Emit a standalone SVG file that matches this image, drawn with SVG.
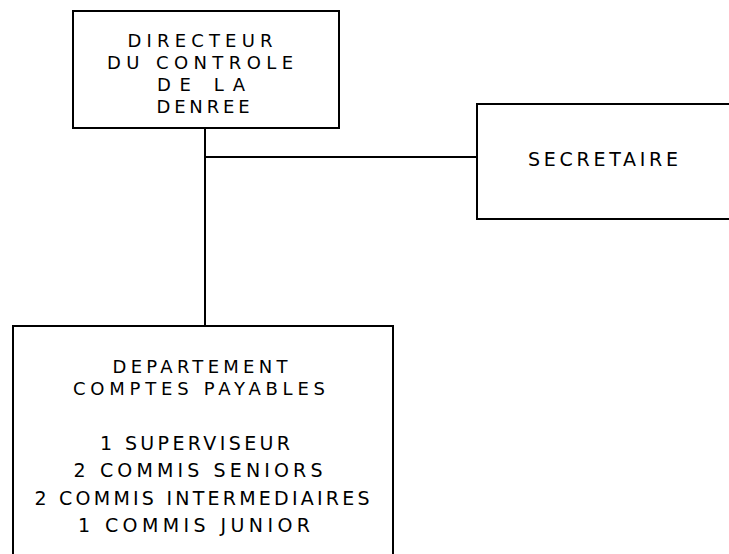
<svg xmlns="http://www.w3.org/2000/svg" width="729" height="554" viewBox="0 0 729 554">
  <style>
    .box { fill: none; stroke: #000; stroke-width: 2; }
    .wire { fill: none; stroke: #000; stroke-width: 2; }
    .lbl { font-family: "DejaVu Sans", "Liberation Sans", sans-serif; font-size: 18px; fill: #000; text-anchor: middle; }
    .big { font-size: 19px; }
  </style>
  <rect width="729" height="554" fill="#fff"/>

  <!-- connectors -->
  <g id="connectors">
    <line class="wire" x1="205" y1="128" x2="205" y2="326"/>
    <line class="wire" x1="205" y1="157" x2="477" y2="157"/>
  </g>

  <!-- director box -->
  <g id="directeur">
    <rect class="box" x="73" y="11" width="266" height="117"/>
    <text class="lbl" x="200" y="47" textLength="145" lengthAdjust="spacing">DIRECTEUR</text>
    <text class="lbl" x="200" y="69" textLength="186" lengthAdjust="spacing">DU CONTROLE</text>
    <text class="lbl" x="201" y="91" textLength="88" lengthAdjust="spacing">DE LA</text>
    <text class="lbl" x="203" y="113" textLength="93" lengthAdjust="spacing">DENREE</text>
  </g>

  <!-- secretary box, runs off the right edge -->
  <g id="secretaire">
    <path class="box" d="M729 104 H477 V219 H729"/>
    <text class="lbl big" x="603" y="166" textLength="150" lengthAdjust="spacing">SECRETAIRE</text>
  </g>

  <!-- department box, runs off the bottom edge -->
  <g id="departement">
    <path class="box" d="M13 554 V326 H393 V554"/>
    <text class="lbl" x="200" y="373" textLength="175" lengthAdjust="spacing">DEPARTEMENT</text>
    <text class="lbl" x="199" y="395" textLength="252" lengthAdjust="spacing">COMPTES PAYABLES</text>
    <text class="lbl big" x="195" y="450" textLength="190" lengthAdjust="spacing">1 SUPERVISEUR</text>
    <text class="lbl big" x="198" y="477" textLength="249" lengthAdjust="spacing">2 COMMIS SENIORS</text>
    <text class="lbl big" x="202" y="505" textLength="335" lengthAdjust="spacing">2 COMMIS INTERMEDIAIRES</text>
    <text class="lbl big" x="194" y="532" textLength="232" lengthAdjust="spacing">1 COMMIS JUNIOR</text>
  </g>
</svg>
